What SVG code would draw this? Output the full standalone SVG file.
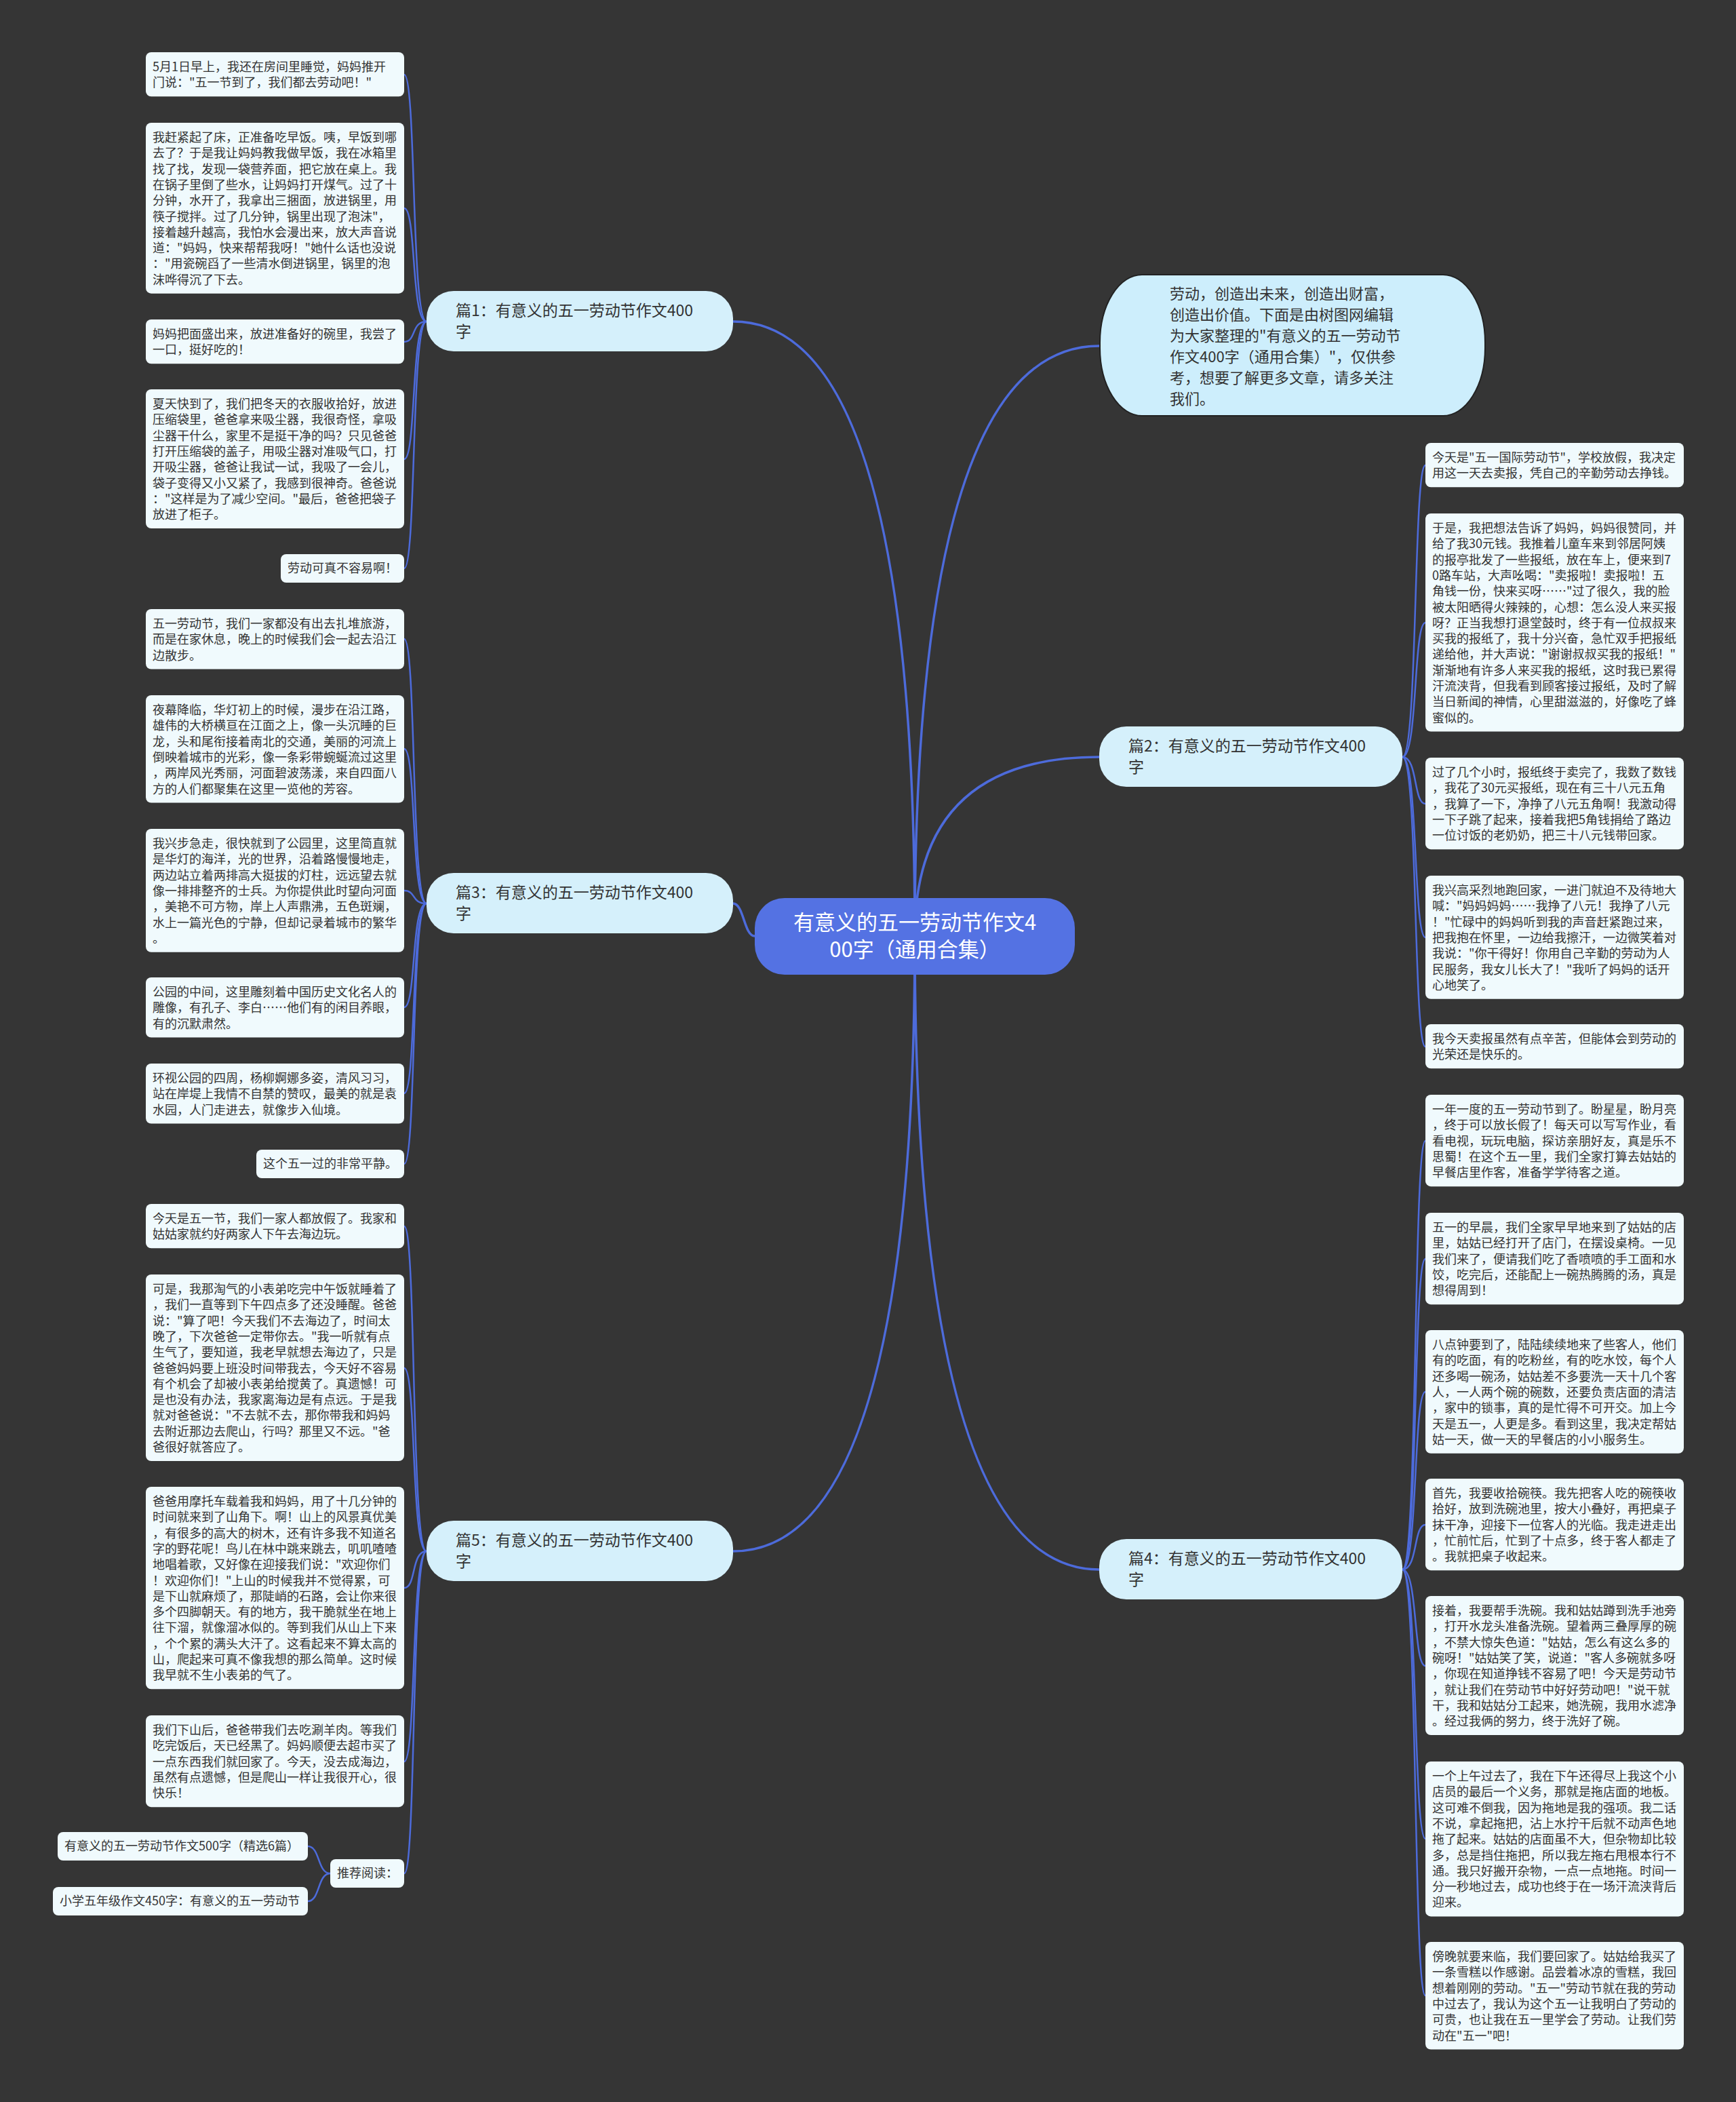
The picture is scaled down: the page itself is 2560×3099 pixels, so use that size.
<svg xmlns="http://www.w3.org/2000/svg" width="2560" height="3099" viewBox="0 0 2560 3099">
<style>
text{font-family:"Noto Sans CJK SC","Noto Sans",sans-serif;}
.leaf{fill:#f0fafd;}
.lt{font-size:18px;fill:#333333;}
.br{fill:#d5f0fb;}
.bt{font-size:23px;fill:#333333;}
.it{font-size:22px;fill:#333333;}
.c1{fill:none;stroke:#4d6bdb;stroke-width:3.5;}
.c2{fill:none;stroke:#4d6bdb;stroke-width:2.5;}
</style>
<rect width="2560" height="3099" fill="#353535"/>
<g id="connectors">
<path class="c1" d="M1349,1380 Q1349,474 1081,474"/>
<path class="c1" d="M1349,1380 Q1349,510 1621,510"/>
<path class="c1" d="M1349,1380 Q1349,1116 1621,1116"/>
<path class="c1" d="M1113,1380 C1097,1380 1097,1332 1081,1332"/>
<path class="c1" d="M1349,1380 Q1349,2314 1621,2314"/>
<path class="c1" d="M1349,1380 Q1349,2287 1081,2287"/>
<path class="c2" d="M629,474 C606,474 614,110 596,110"/>
<path class="c2" d="M629,474 C606,474 614,307 596,307"/>
<path class="c2" d="M629,474 C606,474 614,504 596,504"/>
<path class="c2" d="M629,474 C606,474 614,677 596,677"/>
<path class="c2" d="M629,474 C606,474 614,838 596,838"/>
<path class="c2" d="M629,1332 C606,1332 614,942 596,942"/>
<path class="c2" d="M629,1332 C606,1332 614,1104 596,1104"/>
<path class="c2" d="M629,1332 C606,1332 614,1313 596,1313"/>
<path class="c2" d="M629,1332 C606,1332 614,1485 596,1485"/>
<path class="c2" d="M629,1332 C606,1332 614,1612 596,1612"/>
<path class="c2" d="M629,1332 C606,1332 614,1716 596,1716"/>
<path class="c2" d="M629,2287 C606,2287 614,1808 596,1808"/>
<path class="c2" d="M629,2287 C606,2287 614,2017 596,2017"/>
<path class="c2" d="M629,2287 C606,2287 614,2341 596,2341"/>
<path class="c2" d="M629,2287 C606,2287 614,2597 596,2597"/>
<path class="c2" d="M629,2287 C606,2287 614,2762 596,2762"/>
<path class="c2" d="M487,2762 C468,2762 472,2722 454,2722"/>
<path class="c2" d="M487,2762 C468,2762 472,2803 454,2803"/>
<path class="c2" d="M2068,1116 C2091,1116 2084,686 2102,686"/>
<path class="c2" d="M2068,1116 C2091,1116 2084,918 2102,918"/>
<path class="c2" d="M2068,1116 C2091,1116 2084,1185 2102,1185"/>
<path class="c2" d="M2068,1116 C2091,1116 2084,1382 2102,1382"/>
<path class="c2" d="M2068,1116 C2091,1116 2084,1543 2102,1543"/>
<path class="c2" d="M2068,2314 C2091,2314 2084,1682 2102,1682"/>
<path class="c2" d="M2068,2314 C2091,2314 2084,1856 2102,1856"/>
<path class="c2" d="M2068,2314 C2091,2314 2084,2052 2102,2052"/>
<path class="c2" d="M2068,2314 C2091,2314 2084,2248 2102,2248"/>
<path class="c2" d="M2068,2314 C2091,2314 2084,2456 2102,2456"/>
<path class="c2" d="M2068,2314 C2091,2314 2084,2711 2102,2711"/>
<path class="c2" d="M2068,2314 C2091,2314 2084,2942 2102,2942"/>
</g>
<g id="center">
<rect x="1113" y="1324" width="472" height="113" rx="44" fill="#5472e3"/>
<text x="1349" y="1371" font-size="31" fill="#ffffff" text-anchor="middle">有意义的五一劳动节作文4</text>
<text x="1349" y="1411" font-size="31" fill="#ffffff" text-anchor="middle">00字（通用合集）</text>
</g>
<g id="intro">
<rect x="1622" y="405" width="568" height="208" rx="62" ry="100" fill="#cdeefc" stroke="#222" stroke-width="2"/>
<text class="it"><tspan x="1725" y="441">劳动，创造出未来，创造出财富，</tspan><tspan x="1725" dy="31">创造出价值。下面是由树图网编辑</tspan><tspan x="1725" dy="31">为大家整理的"有意义的五一劳动节</tspan><tspan x="1725" dy="31">作文400字（通用合集）"，仅供参</tspan><tspan x="1725" dy="31">考，想要了解更多文章，请多关注</tspan><tspan x="1725" dy="31">我们。</tspan></text>
</g>
<g id="b1"><rect class="br" x="629" y="429" width="452" height="89" rx="40"/><text class="bt"><tspan x="672" y="466">篇1：有意义的五一劳动节作文400</tspan><tspan x="672" dy="31">字</tspan></text></g>
<g id="b3"><rect class="br" x="629" y="1287" width="452" height="89" rx="40"/><text class="bt"><tspan x="672" y="1324">篇3：有意义的五一劳动节作文400</tspan><tspan x="672" dy="31">字</tspan></text></g>
<g id="b5"><rect class="br" x="629" y="2242" width="452" height="89" rx="40"/><text class="bt"><tspan x="672" y="2279">篇5：有意义的五一劳动节作文400</tspan><tspan x="672" dy="31">字</tspan></text></g>
<g id="b2"><rect class="br" x="1621" y="1071" width="447" height="89" rx="40"/><text class="bt"><tspan x="1664" y="1108">篇2：有意义的五一劳动节作文400</tspan><tspan x="1664" dy="31">字</tspan></text></g>
<g id="b4"><rect class="br" x="1621" y="2269" width="447" height="89" rx="40"/><text class="bt"><tspan x="1664" y="2306">篇4：有意义的五一劳动节作文400</tspan><tspan x="1664" dy="31">字</tspan></text></g>

<g id="l1a"><rect class="leaf" x="215" y="77" width="381" height="65.3" rx="8"/><text class="lt"><tspan x="225" y="105">5月1日早上，我还在房间里睡觉，妈妈推开</tspan><tspan x="225" dy="23.3">门说："五一节到了，我们都去劳动吧！"</tspan></text></g>
<g id="l1b"><rect class="leaf" x="215" y="181" width="381" height="251.7" rx="8"/><text class="lt"><tspan x="225" y="209">我赶紧起了床，正准备吃早饭。咦，早饭到哪</tspan><tspan x="225" dy="23.3">去了？于是我让妈妈教我做早饭，我在冰箱里</tspan><tspan x="225" dy="23.3">找了找，发现一袋营养面，把它放在桌上。我</tspan><tspan x="225" dy="23.3">在锅子里倒了些水，让妈妈打开煤气。过了十</tspan><tspan x="225" dy="23.3">分钟，水开了，我拿出三捆面，放进锅里，用</tspan><tspan x="225" dy="23.3">筷子搅拌。过了几分钟，锅里出现了泡沫"，</tspan><tspan x="225" dy="23.3">接着越升越高，我怕水会漫出来，放大声音说</tspan><tspan x="225" dy="23.3">道："妈妈，快来帮帮我呀！"她什么话也没说</tspan><tspan x="225" dy="23.3">："用瓷碗舀了一些清水倒进锅里，锅里的泡</tspan><tspan x="225" dy="23.3">沫哗得沉了下去。</tspan></text></g>
<g id="l1c"><rect class="leaf" x="215" y="471" width="381" height="65.3" rx="8"/><text class="lt"><tspan x="225" y="499">妈妈把面盛出来，放进准备好的碗里，我尝了</tspan><tspan x="225" dy="23.3">一口，挺好吃的！</tspan></text></g>
<g id="l1d"><rect class="leaf" x="215" y="574" width="381" height="205.1" rx="8"/><text class="lt"><tspan x="225" y="602">夏天快到了，我们把冬天的衣服收拾好，放进</tspan><tspan x="225" dy="23.3">压缩袋里，爸爸拿来吸尘器，我很奇怪，拿吸</tspan><tspan x="225" dy="23.3">尘器干什么，家里不是挺干净的吗？只见爸爸</tspan><tspan x="225" dy="23.3">打开压缩袋的盖子，用吸尘器对准吸气口，打</tspan><tspan x="225" dy="23.3">开吸尘器，爸爸让我试一试，我吸了一会儿，</tspan><tspan x="225" dy="23.3">袋子变得又小又紧了，我感到很神奇。爸爸说</tspan><tspan x="225" dy="23.3">："这样是为了减少空间。"最后，爸爸把袋子</tspan><tspan x="225" dy="23.3">放进了柜子。</tspan></text></g>
<g id="l1e"><rect class="leaf" x="414" y="817" width="182" height="42" rx="8"/><text class="lt" x="424" y="844">劳动可真不容易啊！</text></g>

<g id="l3a"><rect class="leaf" x="215" y="898" width="381" height="88.6" rx="8"/><text class="lt"><tspan x="225" y="926">五一劳动节，我们一家都没有出去扎堆旅游，</tspan><tspan x="225" dy="23.3">而是在家休息，晚上的时候我们会一起去沿江</tspan><tspan x="225" dy="23.3">边散步。</tspan></text></g>
<g id="l3b"><rect class="leaf" x="215" y="1025" width="381" height="158.5" rx="8"/><text class="lt"><tspan x="225" y="1053">夜幕降临，华灯初上的时候，漫步在沿江路，</tspan><tspan x="225" dy="23.3">雄伟的大桥横亘在江面之上，像一头沉睡的巨</tspan><tspan x="225" dy="23.3">龙，头和尾衔接着南北的交通，美丽的河流上</tspan><tspan x="225" dy="23.3">倒映着城市的光彩，像一条彩带蜿蜒流过这里</tspan><tspan x="225" dy="23.3">，两岸风光秀丽，河面碧波荡漾，来自四面八</tspan><tspan x="225" dy="23.3">方的人们都聚集在这里一览他的芳容。</tspan></text></g>
<g id="l3c"><rect class="leaf" x="215" y="1222" width="381" height="181.8" rx="8"/><text class="lt"><tspan x="225" y="1250">我兴步急走，很快就到了公园里，这里简直就</tspan><tspan x="225" dy="23.3">是华灯的海洋，光的世界，沿着路慢慢地走，</tspan><tspan x="225" dy="23.3">两边站立着两排高大挺拔的灯柱，远远望去就</tspan><tspan x="225" dy="23.3">像一排排整齐的士兵。为你提供此时望向河面</tspan><tspan x="225" dy="23.3">，美艳不可方物，岸上人声鼎沸，五色斑斓，</tspan><tspan x="225" dy="23.3">水上一篇光色的宁静，但却记录着城市的繁华</tspan><tspan x="225" dy="23.3">。</tspan></text></g>
<g id="l3d"><rect class="leaf" x="215" y="1441" width="381" height="88.6" rx="8"/><text class="lt"><tspan x="225" y="1469">公园的中间，这里雕刻着中国历史文化名人的</tspan><tspan x="225" dy="23.3">雕像，有孔子、李白……他们有的闲目养眼，</tspan><tspan x="225" dy="23.3">有的沉默肃然。</tspan></text></g>
<g id="l3e"><rect class="leaf" x="215" y="1568" width="381" height="88.6" rx="8"/><text class="lt"><tspan x="225" y="1596">环视公园的四周，杨柳婀娜多姿，清风习习，</tspan><tspan x="225" dy="23.3">站在岸堤上我情不自禁的赞叹，最美的就是袁</tspan><tspan x="225" dy="23.3">水园，人门走进去，就像步入仙境。</tspan></text></g>
<g id="l3f"><rect class="leaf" x="378" y="1695" width="218" height="42" rx="8"/><text class="lt" x="388" y="1722">这个五一过的非常平静。</text></g>

<g id="l5a"><rect class="leaf" x="215" y="1775" width="381" height="65.3" rx="8"/><text class="lt"><tspan x="225" y="1803">今天是五一节，我们一家人都放假了。我家和</tspan><tspan x="225" dy="23.3">姑姑家就约好两家人下午去海边玩。</tspan></text></g>
<g id="l5b"><rect class="leaf" x="215" y="1879" width="381" height="275" rx="8"/><text class="lt"><tspan x="225" y="1907">可是，我那淘气的小表弟吃完中午饭就睡着了</tspan><tspan x="225" dy="23.3">，我们一直等到下午四点多了还没睡醒。爸爸</tspan><tspan x="225" dy="23.3">说："算了吧！今天我们不去海边了，时间太</tspan><tspan x="225" dy="23.3">晚了，下次爸爸一定带你去。"我一听就有点</tspan><tspan x="225" dy="23.3">生气了，要知道，我老早就想去海边了，只是</tspan><tspan x="225" dy="23.3">爸爸妈妈要上班没时间带我去，今天好不容易</tspan><tspan x="225" dy="23.3">有个机会了却被小表弟给搅黄了。真遗憾！可</tspan><tspan x="225" dy="23.3">是也没有办法，我家离海边是有点远。于是我</tspan><tspan x="225" dy="23.3">就对爸爸说："不去就不去，那你带我和妈妈</tspan><tspan x="225" dy="23.3">去附近那边去爬山，行吗？那里又不远。"爸</tspan><tspan x="225" dy="23.3">爸很好就答应了。</tspan></text></g>
<g id="l5c"><rect class="leaf" x="215" y="2192" width="381" height="298.3" rx="8"/><text class="lt"><tspan x="225" y="2220">爸爸用摩托车载着我和妈妈，用了十几分钟的</tspan><tspan x="225" dy="23.3">时间就来到了山角下。啊！山上的风景真优美</tspan><tspan x="225" dy="23.3">，有很多的高大的树木，还有许多我不知道名</tspan><tspan x="225" dy="23.3">字的野花呢！鸟儿在林中跳来跳去，叽叽喳喳</tspan><tspan x="225" dy="23.3">地唱着歌，又好像在迎接我们说："欢迎你们</tspan><tspan x="225" dy="23.3">！欢迎你们！"上山的时候我并不觉得累，可</tspan><tspan x="225" dy="23.3">是下山就麻烦了，那陡峭的石路，会让你来很</tspan><tspan x="225" dy="23.3">多个四脚朝天。有的地方，我干脆就坐在地上</tspan><tspan x="225" dy="23.3">往下溜，就像溜冰似的。等到我们从山上下来</tspan><tspan x="225" dy="23.3">，个个累的满头大汗了。这看起来不算太高的</tspan><tspan x="225" dy="23.3">山，爬起来可真不像我想的那么简单。这时候</tspan><tspan x="225" dy="23.3">我早就不生小表弟的气了。</tspan></text></g>
<g id="l5d"><rect class="leaf" x="215" y="2529" width="381" height="135.2" rx="8"/><text class="lt"><tspan x="225" y="2557">我们下山后，爸爸带我们去吃涮羊肉。等我们</tspan><tspan x="225" dy="23.3">吃完饭后，天已经黑了。妈妈顺便去超市买了</tspan><tspan x="225" dy="23.3">一点东西我们就回家了。今天，没去成海边，</tspan><tspan x="225" dy="23.3">虽然有点遗憾，但是爬山一样让我很开心，很</tspan><tspan x="225" dy="23.3">快乐！</tspan></text></g>
<g id="l5e"><rect class="leaf" x="487" y="2741" width="109" height="42" rx="8"/><text class="lt" x="497" y="2768">推荐阅读：</text></g>
<g id="r1"><rect class="leaf" x="85" y="2701" width="369" height="42" rx="8"/><text class="lt" x="95" y="2728">有意义的五一劳动节作文500字（精选6篇）</text></g>
<g id="r2"><rect class="leaf" x="78" y="2782" width="376" height="42" rx="8"/><text class="lt" x="88" y="2809">小学五年级作文450字：有意义的五一劳动节</text></g>

<g id="l2a"><rect class="leaf" x="2102" y="653" width="381" height="65.3" rx="8"/><text class="lt"><tspan x="2112" y="681">今天是"五一国际劳动节"，学校放假，我决定</tspan><tspan x="2112" dy="23.3">用这一天去卖报，凭自己的辛勤劳动去挣钱。</tspan></text></g>
<g id="l2b"><rect class="leaf" x="2102" y="757" width="381" height="321.6" rx="8"/><text class="lt"><tspan x="2112" y="785">于是，我把想法告诉了妈妈，妈妈很赞同，并</tspan><tspan x="2112" dy="23.3">给了我30元钱。我推着儿童车来到邻居阿姨</tspan><tspan x="2112" dy="23.3">的报亭批发了一些报纸，放在车上，便来到7</tspan><tspan x="2112" dy="23.3">0路车站，大声吆喝："卖报啦！卖报啦！五</tspan><tspan x="2112" dy="23.3">角钱一份，快来买呀……"过了很久，我的脸</tspan><tspan x="2112" dy="23.3">被太阳晒得火辣辣的，心想：怎么没人来买报</tspan><tspan x="2112" dy="23.3">呀？正当我想打退堂鼓时，终于有一位叔叔来</tspan><tspan x="2112" dy="23.3">买我的报纸了，我十分兴奋，急忙双手把报纸</tspan><tspan x="2112" dy="23.3">递给他，并大声说："谢谢叔叔买我的报纸！"</tspan><tspan x="2112" dy="23.3">渐渐地有许多人来买我的报纸，这时我已累得</tspan><tspan x="2112" dy="23.3">汗流浃背，但我看到顾客接过报纸，及时了解</tspan><tspan x="2112" dy="23.3">当日新闻的神情，心里甜滋滋的，好像吃了蜂</tspan><tspan x="2112" dy="23.3">蜜似的。</tspan></text></g>
<g id="l2c"><rect class="leaf" x="2102" y="1117" width="381" height="135.2" rx="8"/><text class="lt"><tspan x="2112" y="1145">过了几个小时，报纸终于卖完了，我数了数钱</tspan><tspan x="2112" dy="23.3">，我花了30元买报纸，现在有三十八元五角</tspan><tspan x="2112" dy="23.3">，我算了一下，净挣了八元五角啊！我激动得</tspan><tspan x="2112" dy="23.3">一下子跳了起来，接着我把5角钱捐给了路边</tspan><tspan x="2112" dy="23.3">一位讨饭的老奶奶，把三十八元钱带回家。</tspan></text></g>
<g id="l2d"><rect class="leaf" x="2102" y="1291" width="381" height="181.8" rx="8"/><text class="lt"><tspan x="2112" y="1319">我兴高采烈地跑回家，一进门就迫不及待地大</tspan><tspan x="2112" dy="23.3">喊："妈妈妈妈……我挣了八元！我挣了八元</tspan><tspan x="2112" dy="23.3">！"忙碌中的妈妈听到我的声音赶紧跑过来，</tspan><tspan x="2112" dy="23.3">把我抱在怀里，一边给我擦汗，一边微笑着对</tspan><tspan x="2112" dy="23.3">我说："你干得好！你用自己辛勤的劳动为人</tspan><tspan x="2112" dy="23.3">民服务，我女儿长大了！"我听了妈妈的话开</tspan><tspan x="2112" dy="23.3">心地笑了。</tspan></text></g>
<g id="l2e"><rect class="leaf" x="2102" y="1510" width="381" height="65.3" rx="8"/><text class="lt"><tspan x="2112" y="1538">我今天卖报虽然有点辛苦，但能体会到劳动的</tspan><tspan x="2112" dy="23.3">光荣还是快乐的。</tspan></text></g>

<g id="l4a"><rect class="leaf" x="2102" y="1614" width="381" height="135.2" rx="8"/><text class="lt"><tspan x="2112" y="1642">一年一度的五一劳动节到了。盼星星，盼月亮</tspan><tspan x="2112" dy="23.3">，终于可以放长假了！每天可以写写作业，看</tspan><tspan x="2112" dy="23.3">看电视，玩玩电脑，探访亲朋好友，真是乐不</tspan><tspan x="2112" dy="23.3">思蜀！在这个五一里，我们全家打算去姑姑的</tspan><tspan x="2112" dy="23.3">早餐店里作客，准备学学待客之道。</tspan></text></g>
<g id="l4b"><rect class="leaf" x="2102" y="1788" width="381" height="135.2" rx="8"/><text class="lt"><tspan x="2112" y="1816">五一的早晨，我们全家早早地来到了姑姑的店</tspan><tspan x="2112" dy="23.3">里，姑姑已经打开了店门，在摆设桌椅。一见</tspan><tspan x="2112" dy="23.3">我们来了，便请我们吃了香喷喷的手工面和水</tspan><tspan x="2112" dy="23.3">饺，吃完后，还能配上一碗热腾腾的汤，真是</tspan><tspan x="2112" dy="23.3">想得周到！</tspan></text></g>
<g id="l4c"><rect class="leaf" x="2102" y="1961" width="381" height="181.8" rx="8"/><text class="lt"><tspan x="2112" y="1989">八点钟要到了，陆陆续续地来了些客人，他们</tspan><tspan x="2112" dy="23.3">有的吃面，有的吃粉丝，有的吃水饺，每个人</tspan><tspan x="2112" dy="23.3">还多喝一碗汤，姑姑差不多要洗一天十几个客</tspan><tspan x="2112" dy="23.3">人，一人两个碗的碗数，还要负责店面的清洁</tspan><tspan x="2112" dy="23.3">，家中的锁事，真的是忙得不可开交。加上今</tspan><tspan x="2112" dy="23.3">天是五一，人更是多。看到这里，我决定帮姑</tspan><tspan x="2112" dy="23.3">姑一天，做一天的早餐店的小小服务生。</tspan></text></g>
<g id="l4d"><rect class="leaf" x="2102" y="2180" width="381" height="135.2" rx="8"/><text class="lt"><tspan x="2112" y="2208">首先，我要收拾碗筷。我先把客人吃的碗筷收</tspan><tspan x="2112" dy="23.3">拾好，放到洗碗池里，按大小叠好，再把桌子</tspan><tspan x="2112" dy="23.3">抹干净，迎接下一位客人的光临。我走进走出</tspan><tspan x="2112" dy="23.3">，忙前忙后，忙到了十点多，终于客人都走了</tspan><tspan x="2112" dy="23.3">。我就把桌子收起来。</tspan></text></g>
<g id="l4e"><rect class="leaf" x="2102" y="2353" width="381" height="205.1" rx="8"/><text class="lt"><tspan x="2112" y="2381">接着，我要帮手洗碗。我和姑姑蹲到洗手池旁</tspan><tspan x="2112" dy="23.3">，打开水龙头准备洗碗。望着两三叠厚厚的碗</tspan><tspan x="2112" dy="23.3">，不禁大惊失色道："姑姑，怎么有这么多的</tspan><tspan x="2112" dy="23.3">碗呀！"姑姑笑了笑，说道："客人多碗就多呀</tspan><tspan x="2112" dy="23.3">，你现在知道挣钱不容易了吧！今天是劳动节</tspan><tspan x="2112" dy="23.3">，就让我们在劳动节中好好劳动吧！"说干就</tspan><tspan x="2112" dy="23.3">干，我和姑姑分工起来，她洗碗，我用水滤净</tspan><tspan x="2112" dy="23.3">。经过我俩的努力，终于洗好了碗。</tspan></text></g>
<g id="l4f"><rect class="leaf" x="2102" y="2597" width="381" height="228.4" rx="8"/><text class="lt"><tspan x="2112" y="2625">一个上午过去了，我在下午还得尽上我这个小</tspan><tspan x="2112" dy="23.3">店员的最后一个义务，那就是拖店面的地板。</tspan><tspan x="2112" dy="23.3">这可难不倒我，因为拖地是我的强项。我二话</tspan><tspan x="2112" dy="23.3">不说，拿起拖把，沾上水拧干后就不动声色地</tspan><tspan x="2112" dy="23.3">拖了起来。姑姑的店面虽不大，但杂物却比较</tspan><tspan x="2112" dy="23.3">多，总是挡住拖把，所以我左拖右甩根本行不</tspan><tspan x="2112" dy="23.3">通。我只好搬开杂物，一点一点地拖。时间一</tspan><tspan x="2112" dy="23.3">分一秒地过去，成功也终于在一场汗流浃背后</tspan><tspan x="2112" dy="23.3">迎来。</tspan></text></g>
<g id="l4g"><rect class="leaf" x="2102" y="2863" width="381" height="158.5" rx="8"/><text class="lt"><tspan x="2112" y="2891">傍晚就要来临，我们要回家了。姑姑给我买了</tspan><tspan x="2112" dy="23.3">一条雪糕以作感谢。品尝着冰凉的雪糕，我回</tspan><tspan x="2112" dy="23.3">想着刚刚的劳动。"五一"劳动节就在我的劳动</tspan><tspan x="2112" dy="23.3">中过去了，我认为这个五一让我明白了劳动的</tspan><tspan x="2112" dy="23.3">可贵，也让我在五一里学会了劳动。让我们劳</tspan><tspan x="2112" dy="23.3">动在"五一"吧！</tspan></text></g>
</svg>
